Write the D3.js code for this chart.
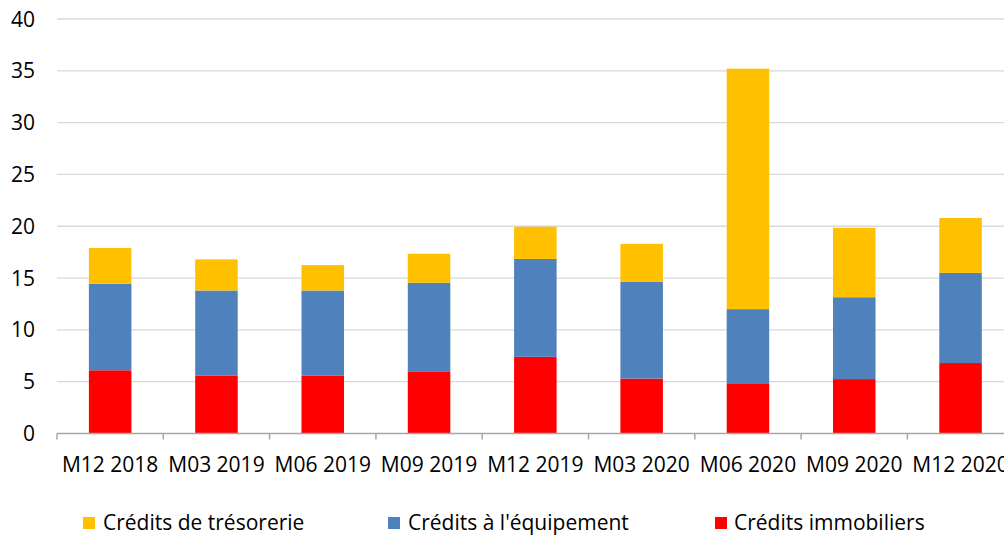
<!DOCTYPE html>
<html><head><meta charset="utf-8">
<script src="https://cdn.jsdelivr.net/npm/d3@7"></script>
<style>body{margin:0;background:#fff;} svg{display:block;} text{font-family:"Open Sans",sans-serif;fill:#000;}</style>
</head><body>
<svg id="c" width="1004" height="535"></svg>
<script>
const categories = ["M12 2018","M03 2019","M06 2019","M09 2019","M12 2019","M03 2020","M06 2020","M09 2020","M12 2020"];
const seriesNames = ["Crédits immobiliers","Crédits à l'équipement","Crédits de trésorerie"];
const immobiliers = [6.1, 5.6, 5.6, 6.0, 7.4, 5.3, 4.85, 5.25, 6.8];
const equipement  = [8.35, 8.2, 8.2, 8.55, 9.45, 9.35, 7.15, 7.9, 8.7];
const tresorerie  = [3.45, 3.0, 2.45, 2.8, 3.1, 3.65, 23.2, 6.7, 5.3];
const yTicks = [0,5,10,15,20,25,30,35,40];
const colors = {"Crédits immobiliers":"#FF0000","Crédits à l'équipement":"#4F81BD","Crédits de trésorerie":"#FFC000"};

const svg = d3.select("#c");
const left = 57, step = 106.3;
const right = left + step*categories.length;
const y = d3.scaleLinear().domain([0,40]).range([433.5,19]);
const x = d3.scaleBand().domain(categories).range([left,right]).paddingInner(0.6).paddingOuter(0.3);
const xb = d3.scaleBand().domain(categories).range([left,right]).padding(0);

// gridlines
svg.append("g").selectAll("line").data(yTicks.filter(d=>d>0)).join("line")
  .attr("x1",left).attr("x2",right).attr("y1",d=>y(d)).attr("y2",d=>y(d))
  .attr("stroke","#D9D9D9").attr("stroke-width",1.3);

// y labels
svg.append("g").selectAll("text").data(yTicks).join("text")
  .attr("x",35).attr("y",d=>y(d)).attr("dy","0.36em").attr("text-anchor","end")
  .attr("font-size",21).text(d=>d);

// stacked bars
const rows = categories.map((c,i)=>({cat:c,"Crédits immobiliers":immobiliers[i],"Crédits à l'équipement":equipement[i],"Crédits de trésorerie":tresorerie[i]}));
const stack = d3.stack().keys(seriesNames)(rows);
svg.append("g").selectAll("g").data(stack).join("g").attr("fill",d=>colors[d.key])
  .selectAll("rect").data(d=>d).join("rect")
  .attr("x",d=>x(d.data.cat)).attr("width",x.bandwidth())
  .attr("y",d=>y(d[1])).attr("height",d=>y(d[0])-y(d[1]));

// x axis
const ax = svg.append("g");
ax.append("line").attr("x1",left).attr("x2",right).attr("y1",y(0)).attr("y2",y(0))
  .attr("stroke","#A6A6A6").attr("stroke-width",1.5);
const bounds = categories.map(c=>xb(c)).concat([right]);
ax.selectAll("line.t").data(bounds).join("line").attr("class","t")
  .attr("x1",d=>d).attr("x2",d=>d).attr("y1",y(0)).attr("y2",y(0)+6)
  .attr("stroke","#A6A6A6").attr("stroke-width",1.5);
ax.selectAll("text").data(categories).join("text")
  .attr("x",d=>xb(d)+xb.bandwidth()/2).attr("y",472).attr("text-anchor","middle")
  .attr("font-size",21).text(d=>d);

// legend
const legendItems = [
  {name:"Crédits de trésorerie", sx:83, tx:103},
  {name:"Crédits à l'équipement", sx:388, tx:408},
  {name:"Crédits immobiliers", sx:715, tx:734}
];
const lg = svg.append("g");
lg.selectAll("rect").data(legendItems).join("rect")
  .attr("x",d=>d.sx).attr("y",517).attr("width",12).attr("height",12)
  .attr("fill",d=>colors[d.name]);
lg.selectAll("text").data(legendItems).join("text")
  .attr("x",d=>d.tx).attr("y",530).attr("font-size",21).text(d=>d.name);
</script>
</body></html>
